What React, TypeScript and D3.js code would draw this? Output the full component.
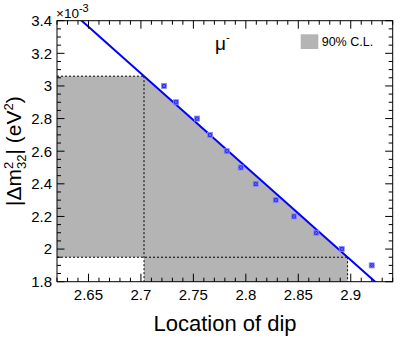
import React from "react";
import * as d3 from "d3";

// location of the dip vs |dm32^2| (units of 1e-3 eV^2)
const dipLocation = [2.722, 2.7334, 2.7535, 2.7659, 2.7818, 2.7951, 2.8094, 2.8285, 2.8459, 2.8672, 2.8914, 2.92];
const dm32 = [3.0, 2.9, 2.8, 2.7, 2.6, 2.5, 2.4, 2.3, 2.2, 2.1, 2.0, 1.9];

// straight line fit: dm32 = fitIntercept + fitSlope * dip
const fitIntercept = 18.5208;
const fitSlope = -5.72;

// 90% C.L. band on dm32
const clLow = 1.95;
const clHigh = 3.06;

const xDomain = [2.62, 2.94];
const yDomain = [1.8, 3.4];
const xTicks = [2.65, 2.7, 2.75, 2.8, 2.85, 2.9];
const yTicks = [1.8, 2, 2.2, 2.4, 2.6, 2.8, 3, 3.2, 3.4];

const W = 407;
const H = 344;
const left = 57, right = 392.7, top = 20.7, bottom = 281.7;
const font = "'Liberation Sans', Arial, Helvetica, sans-serif";

export default function App() {
  const x = d3.scaleLinear().domain(xDomain).range([left, right]);
  const y = d3.scaleLinear().domain(yDomain).range([bottom, top]);

  const dipAt = (v: number) => (v - fitIntercept) / fitSlope;
  const xHi = dipAt(clHigh);
  const xLo = dipAt(clLow);

  // shaded region
  const band: [number, number][] = [
    [xDomain[0], clHigh],
    [xHi, clHigh],
    [xLo, clLow],
    [xLo, yDomain[0]],
    [xHi, yDomain[0]],
    [xHi, clLow],
    [xDomain[0], clLow],
  ];
  const bandPath = d3.line<[number, number]>()
    .x((d) => x(d[0]))
    .y((d) => y(d[1]))(band) + "Z";

  const fitLine = d3.line<number>()
    .x((d) => x(d))
    .y((d) => y(fitIntercept + fitSlope * d))(xDomain);

  const xMinor = d3.range(0, 33).map((i) => 2.62 + i * 0.01);
  const yMinor = d3.range(0, 33).map((i) => 1.8 + i * 0.05);
  const isMajor = (v: number, arr: number[]) => arr.some((t) => Math.abs(t - v) < 1e-6);

  const dash = "2,2";

  return (
    <svg width={W} height={H} style={{ position: "absolute", left: 0, top: 0, background: "#fff" }}>
      <defs>
        <clipPath id="frame">
          <rect x={left} y={top} width={right - left} height={bottom - top} />
        </clipPath>
      </defs>

      <path d={bandPath} fill="#b4b4b4" />

      {/* dashed C.L. guides */}
      <g stroke="#000" strokeWidth={1} strokeDasharray={dash} fill="none">
        <line x1={left} x2={x(xHi)} y1={y(clHigh)} y2={y(clHigh)} />
        <line x1={x(xHi)} x2={x(xHi)} y1={y(clHigh)} y2={bottom} />
        <line x1={left} x2={x(xLo)} y1={y(clLow)} y2={y(clLow)} />
        <line x1={x(xLo)} x2={x(xLo)} y1={y(clLow)} y2={bottom} />
      </g>

      <path d={fitLine || ""} stroke="#0000ff" strokeWidth={2} fill="none" clipPath="url(#frame)" />

      {dipLocation.map((d, i) => (
        <g key={i} transform={`translate(${x(d)},${y(dm32[i])})`}>
          <rect x={-2.5} y={-2.5} width={5} height={5} fill="#2a2aee" stroke="#8a8aff" strokeWidth={0.8} />
          <path d="M-1.5,-1.5L1.5,1.5M-1.5,1.5L1.5,-1.5" stroke="#9999ff" strokeWidth={0.6} />
        </g>
      ))}

      {/* frame and ticks */}
      <rect x={left} y={top} width={right - left} height={bottom - top} fill="none" stroke="#000" strokeWidth={1} />
      <g stroke="#000" strokeWidth={1}>
        {xMinor.map((v, i) => {
          const len = isMajor(v, xTicks) ? 8 : 4;
          return (
            <g key={i}>
              <line x1={x(v)} x2={x(v)} y1={bottom} y2={bottom - len} />
              <line x1={x(v)} x2={x(v)} y1={top} y2={top + len} />
            </g>
          );
        })}
        {yMinor.map((v, i) => {
          const len = isMajor(v, yTicks) ? 7.5 : 4;
          return (
            <g key={i}>
              <line x1={left} x2={left + len} y1={y(v)} y2={y(v)} />
              <line x1={right} x2={right - len} y1={y(v)} y2={y(v)} />
            </g>
          );
        })}
      </g>

      <g fontFamily={font} fontSize={15} fill="#000">
        {xTicks.map((t) => (
          <text key={t} x={x(t)} y={300} textAnchor="middle">{String(t)}</text>
        ))}
        {yTicks.map((t) => (
          <text key={t} x={52} y={y(t)} dy="0.36em" textAnchor="end">{String(t)}</text>
        ))}
      </g>

      <text x={56} y={17.5} fontFamily={font} fontSize={13.5}>
        ×10<tspan fontSize={11} dy={-6}>-3</tspan>
      </text>

      <text x={225} y={331} fontFamily={font} fontSize={22} textAnchor="middle">Location of dip</text>

      <text transform={`translate(21,${(top + bottom) / 2}) rotate(-90)`} fontFamily={font} fontSize={21} textAnchor="middle">
        |Δm
        <tspan fontSize={13} dy={-8}>2</tspan>
        <tspan fontSize={13} dx={-7.2} dy={13}>32</tspan>
        <tspan dy={-5}>| (eV</tspan>
        <tspan fontSize={13} dy={-8}>2</tspan>
        <tspan dy={8}>)</tspan>
      </text>

      <text x={215} y={50} fontFamily={font} fontSize={19}>
        μ<tspan fontSize={11} dy={-9}>-</tspan>
      </text>

      <rect x={300.7} y={34.3} width={17.6} height={14.7} fill="#b4b4b4" />
      <text x={321.7} y={45.5} fontFamily={font} fontSize={12.5}>90% C.L.</text>
    </svg>
  );
}
